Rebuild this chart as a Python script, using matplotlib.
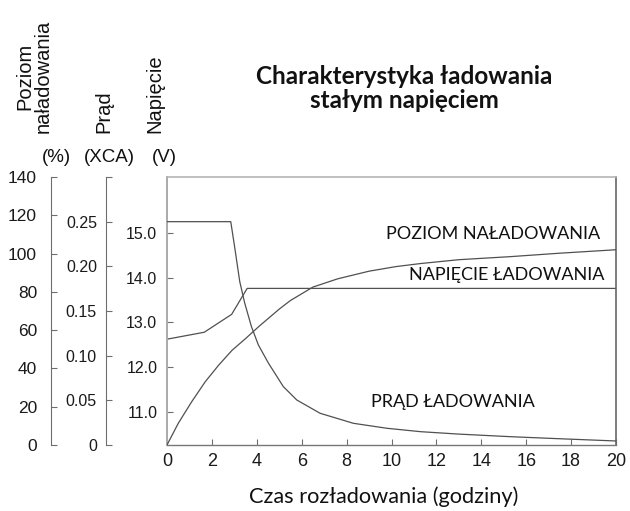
import matplotlib
matplotlib.use('Agg')
import matplotlib.pyplot as plt

# ---- data ----
hours_charge = [0, 0.5, 1.1, 1.7, 2.3, 2.9, 3.5, 4.1, 4.6, 5.0, 5.5, 6.5, 7.6, 9.0,
                10.2, 11.3, 13.0, 15.3, 17.5, 20]
charge_level = [0, 11.3, 22.6, 33, 41.7, 49.5, 55.6, 62, 67, 71, 75.5, 82.5, 86.8, 90.8,
                93.2, 94.8, 96.8, 98.4, 100.2, 102]

hours_current = [0, 2.84, 3.02, 3.24, 3.46, 3.76, 4.07, 4.51, 5.18, 5.78, 6.82,
                 8.3, 9.8, 11.3, 13.0, 15.3, 17.5, 20]
current = [0.25, 0.25, 0.2205, 0.183, 0.159, 0.1326, 0.112, 0.092, 0.0654,
           0.0504, 0.0355, 0.0243, 0.0187, 0.0149, 0.0122, 0.0093, 0.007, 0.0045]

hours_voltage = [0, 1.66, 2.88, 3.57, 20]
voltage = [12.625, 12.78, 13.18, 13.76, 13.76]

x_ticks = list(range(0, 21, 2))
v_ticks = [11, 12, 13, 14, 15]
v_labels = ['11.0', '12.0', '13.0', '14.0', '15.0']
p_ticks = [0, 20, 40, 60, 80, 100, 120, 140]
p_labels = ['0', '20', '40', '60', '80', '100', '120', '140']
i_ticks = [0, 0.05, 0.10, 0.15, 0.20, 0.25, 0.30]
i_labels = ['0', '0.05', '0.10', '0.15', '0.20', '0.25', '']

W, H = 630, 511
SPINE = '#6e6e6e'
LINE = '#505050'
ARIAL = 'Liberation Sans'
CAL = 'Lato'
TXT = '#111111'

fig = plt.figure(figsize=(W / 100, H / 100), dpi=100)
ax = fig.add_axes([167 / W, 1 - 445 / H, (616 - 167) / W, (445 - 177) / H])

# voltage (main axes)
ax.plot(hours_voltage, voltage, color=LINE, lw=0.9)
ax.set_xlim(0, 20)
ax.set_ylim(10.26, 16.25)
ax.set_yticks(v_ticks)
ax.set_yticklabels(v_labels)
ax.set_xticks(x_ticks)
ax.spines['left'].set_color('#aaaaaa')
ax.spines['left'].set_linewidth(1.4)
ax.spines['top'].set_color('#b5b5b5')
ax.spines['top'].set_linewidth(1.2)
ax.spines['right'].set_color('#666666')
ax.spines['right'].set_linewidth(1.2)
ax.spines['bottom'].set_color('#777777')
ax.spines['bottom'].set_linewidth(1.0)
ax.tick_params(axis='y', direction='in', length=4, color=SPINE, pad=7,
               labelsize=11.5, labelcolor='#1a1a1a')
ax.tick_params(axis='x', direction='in', length=4, color=SPINE, pad=6,
               labelsize=13, labelcolor='#1a1a1a')
for lab in ax.get_xticklabels() + ax.get_yticklabels():
    lab.set_fontfamily(ARIAL)

# charge level axis
ax_p = ax.twinx()
ax_p.plot(hours_charge, charge_level, color=LINE, lw=0.9)
ax_p.set_ylim(0, 140)
for k in ['right', 'top', 'bottom']:
    ax_p.spines[k].set_visible(False)
ax_p.spines['left'].set_visible(True)
ax_p.spines['left'].set_position(('axes', (51 - 167) / 449))
ax_p.spines['left'].set_color(SPINE)
ax_p.yaxis.set_ticks_position('left')
ax_p.set_yticks(p_ticks)
ax_p.set_yticklabels(p_labels)
ax_p.tick_params(axis='y', direction='in', length=4, color=SPINE, pad=10,
                 labelsize=12.5, labelcolor='#1a1a1a')
for lab in ax_p.get_yticklabels():
    lab.set_fontfamily(ARIAL)

# current axis
ax_i = ax.twinx()
ax_i.plot(hours_current, current, color=LINE, lw=0.9)
ax_i.set_ylim(0, 0.30)
for k in ['right', 'top', 'bottom']:
    ax_i.spines[k].set_visible(False)
ax_i.spines['left'].set_visible(True)
ax_i.spines['left'].set_position(('axes', (106 - 167) / 449))
ax_i.spines['left'].set_color(SPINE)
ax_i.yaxis.set_ticks_position('left')
ax_i.set_yticks(i_ticks)
ax_i.set_yticklabels(i_labels)
ax_i.tick_params(axis='y', direction='in', length=4, color=SPINE, pad=6.5,
                 labelsize=11.5, labelcolor='#1a1a1a')
for lab in ax_i.get_yticklabels():
    lab.set_fontfamily(ARIAL)

# curve labels
def axfrac(px, py):
    return (px - 167) / 449, (445 - py) / 268

for txt, (px, py) in [('POZIOM NAŁADOWANIA', (493, 234)),
                      ('NAPIĘCIE ŁADOWANIA', (507, 275)),
                      ('PRĄD ŁADOWANIA', (453, 402))]:
    x, y = axfrac(px, py)
    ax.text(x, y, txt, transform=ax.transAxes, ha='center', va='center',
            fontsize=13, family=CAL, color=TXT,
            bbox=dict(facecolor='white', edgecolor='none', pad=1.0), zorder=5)

# axis labels (top-left)
fig.text(34 / W, 1 - 133 / H, 'Poziom\nnaładowania', rotation=90, ha='center',
         va='bottom', fontsize=14.5, family=ARIAL, linespacing=0.9, color=TXT)
fig.text(103.5 / W, 1 - 133 / H, 'Prąd', rotation=90, ha='center', va='bottom',
         fontsize=14.5, family=ARIAL, color=TXT)
fig.text(155 / W, 1 - 133 / H, 'Napięcie', rotation=90, ha='center', va='bottom',
         fontsize=14.5, family=ARIAL, color=TXT)
for txt, px in [('(%)', 56), ('(XCA)', 109), ('(V)', 164)]:
    fig.text(px / W, 1 - 157 / H, txt, ha='center', va='center', fontsize=13.5,
             family=ARIAL, color=TXT)

# title
fig.text(404 / W, 1 - 88.5 / H, 'Charakterystyka ładowania\nstałym napięciem',
         ha='center', va='center', fontsize=17.5, fontweight='bold', family=CAL,
         linespacing=1.0, color=TXT)

# x label
fig.text(384 / W, 1 - 497 / H, 'Czas rozładowania (godziny)', ha='center',
         va='center', fontsize=15.7, family=CAL, color=TXT)

fig.savefig('out.png', dpi=100)
